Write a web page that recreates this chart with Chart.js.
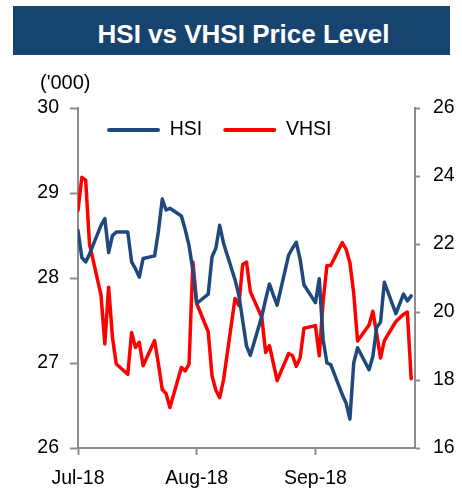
<!DOCTYPE html>
<html><head><meta charset="utf-8">
<script src="https://cdn.jsdelivr.net/npm/chart.js@4.4.0/dist/chart.umd.min.js"></script>
<style>
html,body{margin:0;padding:0;background:#fff;}
#wrap{position:relative;width:462px;height:489px;overflow:hidden;font-family:"Liberation Sans",Arial,sans-serif;}
#titlebar{position:absolute;left:13px;top:6px;width:413px;padding-left:24px;height:49px;background:#17446E;color:#fff;font-weight:bold;font-size:26px;text-align:center;line-height:56px;white-space:nowrap;overflow:hidden;}
#unit{position:absolute;left:40px;top:70px;font-size:20px;line-height:24px;color:#000;}
canvas{position:absolute;left:0;top:0;}
</style></head><body>
<div id="wrap">
<canvas id="c" width="462" height="489"></canvas>
<div id="titlebar">HSI vs VHSI Price Level</div>
<div id="unit">('000)</div>
</div>
<script>
const dates = [
 '2018-07-03','2018-07-04','2018-07-05','2018-07-06','2018-07-09','2018-07-10','2018-07-11','2018-07-12','2018-07-13',
 '2018-07-16','2018-07-17','2018-07-18','2018-07-19','2018-07-20','2018-07-23','2018-07-24','2018-07-25','2018-07-26','2018-07-27',
 '2018-07-30','2018-07-31','2018-08-01','2018-08-02','2018-08-03','2018-08-06','2018-08-07','2018-08-08','2018-08-09','2018-08-10',
 '2018-08-13','2018-08-14','2018-08-15','2018-08-16','2018-08-17','2018-08-20','2018-08-21','2018-08-22','2018-08-23','2018-08-24',
 '2018-08-27','2018-08-28','2018-08-29','2018-08-30','2018-08-31','2018-09-03','2018-09-04','2018-09-05','2018-09-06','2018-09-07',
 '2018-09-10','2018-09-11','2018-09-12','2018-09-13','2018-09-14','2018-09-17','2018-09-18','2018-09-19','2018-09-20','2018-09-21',
 '2018-09-24','2018-09-26','2018-09-27','2018-09-28'
];
const hsi = [
 28.56,28.24,28.19,28.28,28.62,28.70,28.30,28.50,28.54,
 28.54,28.19,28.11,28.01,28.23,28.26,28.55,28.93,28.80,28.82,
 28.73,28.57,28.38,28.09,27.70,27.81,28.25,28.35,28.62,28.41,
 27.98,27.80,27.50,27.20,27.09,27.55,27.75,27.93,27.80,27.68,
 28.27,28.35,28.42,28.22,27.92,27.71,27.99,27.28,27.00,26.98,
 26.63,26.53,26.34,27.00,27.18,26.92,27.08,27.42,27.48,27.95,
 27.58,27.81,27.73,27.79
];
const vhsi = [
 22.99,23.96,23.88,22.00,20.50,19.06,20.73,19.25,18.47,
 18.17,19.40,18.96,19.11,18.42,19.16,18.47,17.72,17.60,17.19,
 18.37,18.27,18.47,21.47,20.25,19.42,18.12,17.70,17.48,18.00,
 20.40,20.19,21.40,21.47,20.60,19.84,18.81,19.01,18.50,17.98,
 18.78,18.72,18.40,18.65,19.52,19.60,18.71,20.30,21.37,21.37,
 22.04,21.85,21.45,20.55,19.15,19.62,20.02,19.35,18.65,19.16,
 19.72,19.93,20.00,18.04
];
const monthTicks = ['2018-07-03','2018-08-03','2018-09-03'];
const monthLabels = ['Jul-18','Aug-18','Sep-18'];
const hsiAxis = [26, 30, 1];
const vhsiAxis = [16, 26, 2];

const base = Date.parse('2018-07-03');
const dayOf = s => Math.round((Date.parse(s) - base) / 86400000);
const FONT = '"Liberation Sans", Arial, sans-serif';
const FS = 19.5;
const AXIS = '#8c8c8c';

const legendShift = {
  id: 'legendShift',
  beforeLayout(chart) {
    const lg = chart.legend;
    if (lg) lg.isHorizontal = () => true;
  },
  afterLayout(chart) {
    const lg = chart.legend; if (!lg) return;
    const h = lg.bottom - lg.top;
    lg.left = 86; lg.right = 440; lg.width = lg.right - lg.left;
    lg.top = 99.25; lg.bottom = lg.top + h;
  }
};

new Chart(document.getElementById('c'), {
  type: 'line',
  data: {
    datasets: [
      { label: 'HSI', data: dates.map((d, i) => ({ x: dayOf(d), y: hsi[i] })), yAxisID: 'y',
        borderColor: '#1F497D', backgroundColor: '#1F497D', borderWidth: 3.5, pointRadius: 0, tension: 0,
        borderJoinStyle: 'round', borderCapStyle: 'round' },
      { label: 'VHSI', data: dates.map((d, i) => ({ x: dayOf(d), y: vhsi[i] })), yAxisID: 'y1',
        borderColor: '#FF0000', backgroundColor: '#FF0000', borderWidth: 3.5, pointRadius: 0, tension: 0,
        borderJoinStyle: 'round', borderCapStyle: 'round' }
    ]
  },
  options: {
    responsive: false, animation: false, devicePixelRatio: 1,
    layout: { padding: { top: 108, left: 0, right: 0, bottom: 0 } },
    plugins: {
      tooltip: { enabled: false },
      legend: {
        position: 'chartArea', align: 'start',
        labels: {
          boxWidth: 53, boxHeight: 4, padding: 21, color: '#000',
          font: { size: FS, family: FONT },
          generateLabels(chart) {
            return chart.data.datasets.map((ds, i) => ({
              text: ds.label, fillStyle: ds.borderColor, strokeStyle: ds.borderColor,
              lineWidth: 0, borderRadius: 2, hidden: false, datasetIndex: i, fontColor: '#000'
            }));
          }
        }
      }
    },
    scales: {
      x: {
        type: 'linear', min: 0, max: 88,
        afterBuildTicks: s => { s.ticks = monthTicks.map(d => ({ value: dayOf(d) })); },
        ticks: {
          autoSkip: false, maxRotation: 0, color: '#000', font: { size: FS, family: FONT }, padding: 12,
          callback: v => monthLabels[monthTicks.findIndex(d => dayOf(d) === v)]
        },
        grid: { drawOnChartArea: false, drawTicks: true, tickLength: 7, tickColor: AXIS, tickWidth: 2 },
        border: { color: AXIS, width: 2 },
        afterFit: s => { s.height = 41; }
      },
      y: {
        position: 'left', min: hsiAxis[0], max: hsiAxis[1],
        ticks: { stepSize: hsiAxis[2], color: '#000', font: { size: FS, family: FONT }, padding: 11 },
        grid: { drawOnChartArea: false, drawTicks: true, tickLength: 8, tickColor: AXIS, tickWidth: 2 },
        border: { color: AXIS, width: 2 },
        afterFit: s => { s.width = 78; }
      },
      y1: {
        position: 'right', min: vhsiAxis[0], max: vhsiAxis[1],
        ticks: { stepSize: vhsiAxis[2], color: '#000', font: { size: FS, family: FONT }, padding: 13 },
        grid: { drawOnChartArea: false, drawTicks: true, tickLength: 5, tickColor: AXIS, tickWidth: 2 },
        border: { color: AXIS, width: 2 },
        afterFit: s => { s.width = 47; }
      }
    }
  },
  plugins: [legendShift]
});
</script>
</body></html>
